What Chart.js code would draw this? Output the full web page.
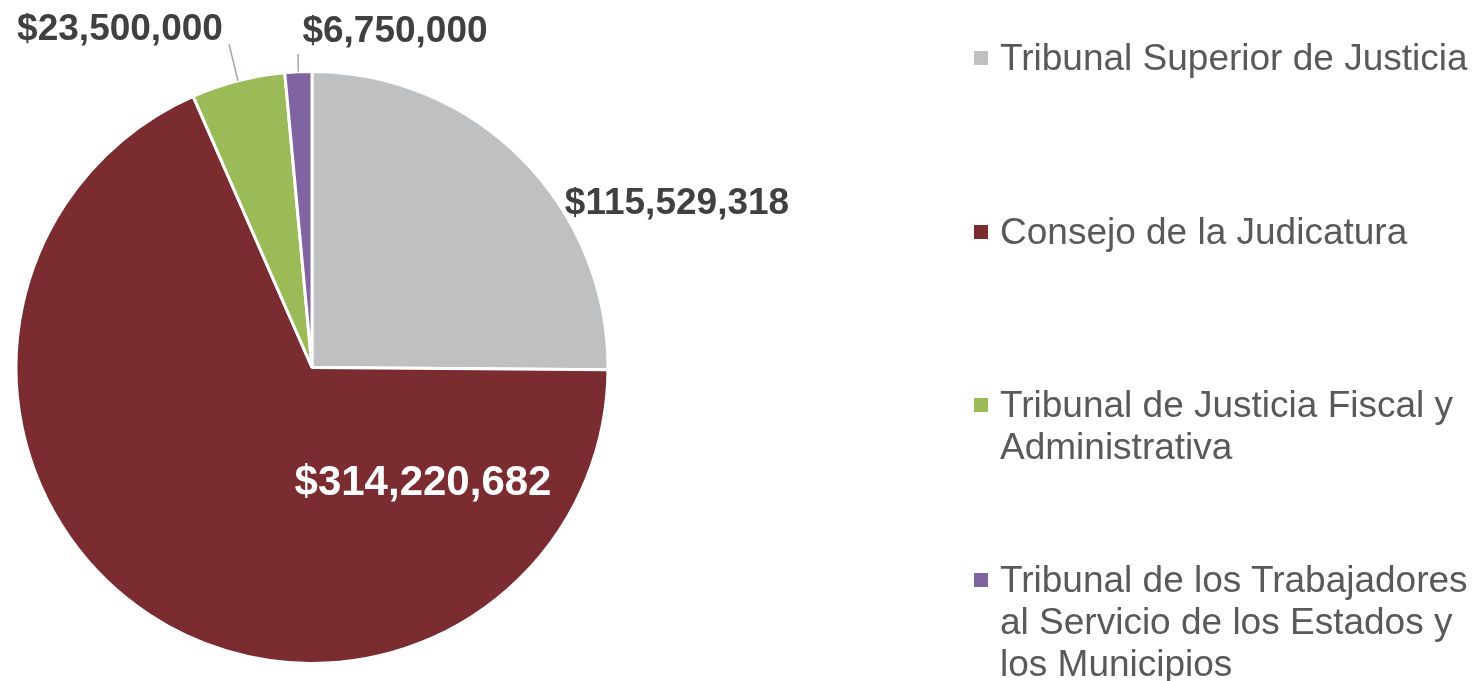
<!DOCTYPE html>
<html>
<head>
<meta charset="utf-8">
<script src="https://cdn.jsdelivr.net/npm/chart.js@4.4.0/dist/chart.umd.min.js"></script>
<style>
  html, body { margin: 0; padding: 0; background: #fff; }
  #wrap { position: relative; width: 1479px; height: 681px; overflow: hidden; }
  #legend { position: absolute; left: 0; top: 0; width: 1479px; height: 681px; pointer-events: none; }
  .item { position: absolute; left: 974px; font-family: Arial, 'Liberation Sans', sans-serif; font-size: 37px; line-height: 42px; color: #595959; white-space: nowrap; }
  .item .box { position: absolute; left: 0; top: 14px; width: 14px; height: 14px; }
  .item .txt { margin-left: 26px; }
</style>
</head>
<body>
<div id="wrap">
  <canvas id="myChart"></canvas>
  <div id="legend"></div>
</div>
<script>
let labels = [
  ['Tribunal Superior de Justicia'],
  ['Consejo de la Judicatura'],
  ['Tribunal de Justicia Fiscal y', 'Administrativa'],
  ['Tribunal de los Trabajadores', 'al Servicio de los Estados y', 'los Municipios']
]
let values = [115529318, 314220682, 23500000, 6750000]
let colors = ['#BFC0C2', '#7A2C30', '#9BBB59', '#8064A2']

// where each value label sits (x, y) and where its leader line ends (null = no line)
let labelPos = [[677, 204], [423, 483], [120, 30], [395, 32]]
let labelLineEnd = [null, null, [229, 44], [298, 54]]
let labelColor = ['#404040', '#FFFFFF', '#404040', '#404040']
let labelSize = [37, 42, 37, 37]

// legend rows, top of first line
let legendTop = [37, 211, 384, 559]

let legendBox = document.getElementById('legend')
labels.forEach((lines, i) => {
  let item = document.createElement('div')
  item.classList.add('item')
  item.style.top = legendTop[i] + 'px'
  item.innerHTML = `<div class="box" style="background:${colors[i]}"></div><div class="txt">${lines.join('<br>')}</div>`
  legendBox.appendChild(item)
})

const fmt = (v) => '$' + v.toLocaleString('en-US')

const valueLabels = {
  id: 'valueLabels',
  afterDatasetsDraw(chart) {
    const ctx = chart.ctx
    const arcs = chart.getDatasetMeta(0).data
    ctx.save()
    arcs.forEach((arc, i) => {
      const p = arc.getProps(['x', 'y', 'startAngle', 'endAngle', 'outerRadius'], true)
      if (labelLineEnd[i]) {
        const mid = (p.startAngle + p.endAngle) / 2
        ctx.beginPath()
        ctx.moveTo(p.x + Math.cos(mid) * p.outerRadius, p.y + Math.sin(mid) * p.outerRadius)
        ctx.lineTo(labelLineEnd[i][0], labelLineEnd[i][1])
        ctx.strokeStyle = '#A6A6A6'
        ctx.lineWidth = 1.5
        ctx.stroke()
      }
      ctx.font = `bold ${labelSize[i]}px Arial, 'Liberation Sans', sans-serif`
      ctx.fillStyle = labelColor[i]
      ctx.textAlign = 'center'
      ctx.textBaseline = 'middle'
      ctx.fillText(fmt(values[i]), labelPos[i][0], labelPos[i][1])
    })
    ctx.restore()
  }
}

const ctx = document.getElementById('myChart').getContext('2d')
let myChart = new Chart(ctx, {
  type: 'pie',
  data: {
    labels: labels,
    datasets: [{
      data: values,
      backgroundColor: colors,
      borderColor: '#FFFFFF',
      borderWidth: 3
    }]
  },
  options: {
    responsive: true,
    maintainAspectRatio: false,
    animation: false,
    layout: {
      padding: { left: 14, right: 869, top: 70, bottom: 16 }
    },
    plugins: {
      legend: { display: false },
      tooltip: { enabled: false }
    }
  },
  plugins: [valueLabels]
})
</script>
</body>
</html>
